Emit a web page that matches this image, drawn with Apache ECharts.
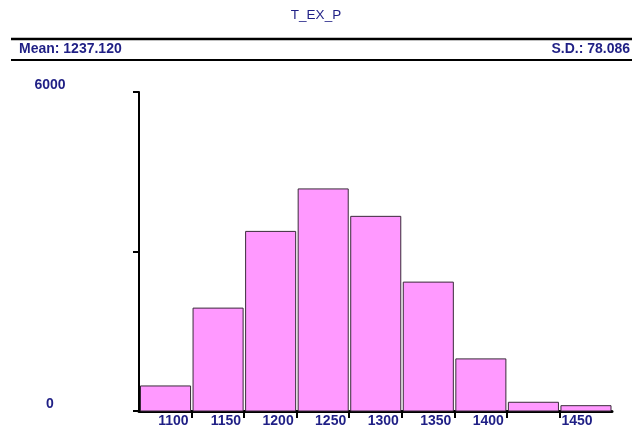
<!DOCTYPE html>
<html>
<head>
<meta charset="utf-8">
<script src="https://cdn.jsdelivr.net/npm/echarts@6/dist/echarts.min.js"></script>
<style>
html,body{margin:0;padding:0;background:#fff;}
#chart{width:632px;height:429px;}
</style>
</head>
<body>
<div id="chart"></div>
<script>
// Histogram bins (lower edge, upper edge) and counts
var binStarts = [1050, 1100, 1150, 1200, 1250, 1300, 1350, 1400, 1450];
var binWidth = 50;
var counts = [471, 1935, 3378, 4177, 3661, 2424, 980, 164, 100];
var xTickLabels = [1100, 1150, 1200, 1250, 1300, 1350, 1400];
var xTickLabelsRight = [1450];
var xTicks = [1100, 1150, 1200, 1250, 1300, 1350, 1400, 1450];
var yTicks = [0, 3000, 6000];
var yLabelValues = [0, 6000];
var titleText = 'T_EX_P';
var meanText = 'Mean: 1237.120';
var sdText = 'S.D.: 78.086';

var textColor = '#1f1f85';
var font = "'Liberation Sans', Arial, sans-serif";
var plain = function (v) { return String(v); };

var data = binStarts.map(function (s, i) { return [s, s + binWidth, counts[i]]; });

var chart = echarts.init(document.getElementById('chart'), null, {renderer: 'canvas'});
chart.setOption({
  animation: false,
  backgroundColor: '#ffffff',
  title: [
    {text: titleText, left: 'center', top: 8, padding: 0,
     textStyle: {fontFamily: font, fontSize: 13.5, fontWeight: 'normal', color: textColor}},
    {text: meanText, left: 19, top: 42, padding: 0,
     textStyle: {fontFamily: font, fontSize: 14, fontWeight: 'bold', color: textColor}},
    {text: sdText, right: 2, top: 42, padding: 0,
     textStyle: {fontFamily: font, fontSize: 14, fontWeight: 'bold', color: textColor}}
  ],
  graphic: [
    {type: 'line', shape: {x1: 11, y1: 39, x2: 632, y2: 39}, style: {stroke: '#000', lineWidth: 2.5}},
    {type: 'line', shape: {x1: 11, y1: 60, x2: 632, y2: 60}, style: {stroke: '#000', lineWidth: 2}}
  ],
  grid: {left: 139, right: 20, top: 92, bottom: 18, containLabel: false},
  xAxis: [
    {
      type: 'value', min: 1050, max: 1500, interval: 50,
      splitLine: {show: false},
      axisLine: {show: true, onZero: false, lineStyle: {color: '#000', width: 3}},
      axisTick: {show: true, length: 7, customValues: xTicks, lineStyle: {color: '#000', width: 2}},
      axisLabel: {
        customValues: xTickLabels, formatter: plain, align: 'right', margin: 3, padding: [0, 3, 0, 0],
        fontFamily: font, fontSize: 14, fontWeight: 'bold', color: textColor
      }
    },
    {
      type: 'value', min: 1050, max: 1500, interval: 50, position: 'bottom',
      splitLine: {show: false},
      axisLine: {show: false},
      axisTick: {show: false},
      axisLabel: {
        customValues: xTickLabelsRight, formatter: plain, align: 'left', margin: 3, padding: [0, 0, 0, 2],
        fontFamily: font, fontSize: 14, fontWeight: 'bold', color: textColor
      }
    }
  ],
  yAxis: {
    type: 'value', min: 0, max: 6000, interval: 3000,
    splitLine: {show: false},
    axisLine: {show: true, lineStyle: {color: '#000', width: 2}},
    axisTick: {show: true, length: 6, customValues: yTicks, lineStyle: {color: '#000', width: 2}},
    axisLabel: {
      customValues: yLabelValues, formatter: plain, align: 'center', verticalAlign: 'bottom', margin: 89,
      fontFamily: font, fontSize: 14, fontWeight: 'bold', color: textColor
    }
  },
  series: [{
    type: 'custom',
    xAxisIndex: 0, yAxisIndex: 0,
    data: data,
    encode: {x: [0, 1], y: 2},
    renderItem: function (params, api) {
      var p0 = api.coord([api.value(0), 0]);
      var p1 = api.coord([api.value(1), api.value(2)]);
      var x0 = p0[0] + 1.5, x1 = p1[0] - 1;
      return {
        type: 'rect',
        shape: {x: x0, y: p1[1], width: x1 - x0, height: p0[1] - p1[1]},
        style: {fill: '#ff99ff', stroke: '#3a2a3a', lineWidth: 1}
      };
    }
  }]
});
</script>
</body>
</html>
